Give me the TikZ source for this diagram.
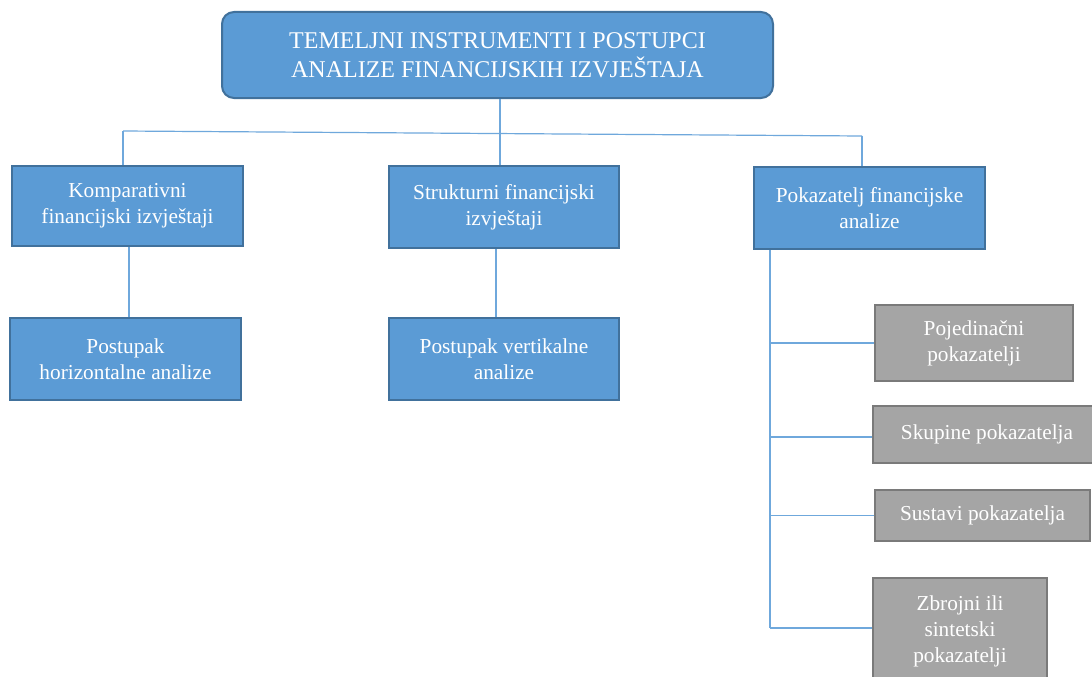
\documentclass[tikz,border=0pt]{standalone}
\usepackage{fontspec}
\setmainfont{Liberation Serif}
\definecolor{boxblue}{HTML}{5B9BD5}
\definecolor{blueedge}{HTML}{41719C}
\definecolor{boxgrey}{HTML}{A5A5A5}
\definecolor{greyedge}{HTML}{7A7A7A}
\definecolor{linkblue}{HTML}{6FA8DC}
\tikzset{
  bluebox/.style={draw=blueedge, fill=boxblue, line width=2pt, text=white, align=center, inner sep=0pt, font=\fontsize{21.3}{26}\selectfont},
  greybox/.style={draw=greyedge, fill=boxgrey, line width=2pt, text=white, align=center, inner sep=0pt, font=\fontsize{21.3}{26}\selectfont},
  link/.style={draw=linkblue, line width=1.2pt}
}
\begin{document}
\begin{tikzpicture}[x=1pt,y=-1pt]
\clip (0,0) rectangle (1092,677);
\fill[white] (0,0) rectangle (1092,677);
\node[bluebox, rounded corners=12pt, minimum width=551pt, minimum height=86pt, font=\fontsize{24}{29}\selectfont] (top) at (497.5,55) {TEMELJNI INSTRUMENTI I POSTUPCI\\ANALIZE FINANCIJSKIH IZVJEŠTAJA};
\node[bluebox, minimum width=231pt, minimum height=80pt] (komp) at (127.5,206) {Komparativni\\financijski izvještaji};
\node[bluebox, minimum width=230pt, minimum height=82pt] (strukt) at (504,207) {Strukturni financijski\\izvještaji};
\node[bluebox, minimum width=231pt, minimum height=82pt] (pok) at (869.5,208) {Pokazatelj financijske\\analize};
\node[bluebox, minimum width=231pt, minimum height=82pt] (horiz) at (125.5,359) {Postupak\\horizontalne analize};
\node[bluebox, minimum width=230pt, minimum height=82pt] (vert) at (504,359) {Postupak vertikalne\\analize};
\node[greybox, minimum width=198pt, minimum height=76pt] (poj) at (974,343) {Pojedinačni\\pokazatelji};
\node[greybox, minimum width=228pt, minimum height=57pt] (skup) at (987,434.5) {Skupine pokazatelja};
\node[greybox, minimum width=215pt, minimum height=51pt] (sust) at (982.5,515.5) {Sustavi pokazatelja};
\node[greybox, minimum width=174pt, minimum height=106pt] (zbr) at (960,631) {Zbrojni ili\\sintetski\\pokazatelji};
\coordinate (j0) at (500,133.5);
\coordinate (jl) at (123,131);
\coordinate (jr) at (862,136);
\coordinate (cl) at (129,0);
\coordinate (cm) at (496,0);
\coordinate (t0) at (770,0);
\coordinate (bs) at ([yshift=-2.5pt]skup.west);
\coordinate (bz) at ([yshift=3pt]zbr.west);
\draw[link] (top.south -| j0) -- (j0);
\draw[link] (jl) -- (jr);
\draw[link] (jl) -- (komp.north -| jl);
\draw[link] (j0) -- (strukt.north -| j0);
\draw[link] (jr) -- (pok.north -| jr);
\draw[link] (komp.south -| cl) -- (horiz.north -| cl);
\draw[link] (strukt.south -| cm) -- (vert.north -| cm);
\draw[link] (pok.south -| t0) -- (t0 |- bz);
\draw[link] (t0 |- poj.west) -- (poj.west);
\draw[link] (t0 |- bs) -- (bs);
\draw[link] (t0 |- sust.west) -- (sust.west);
\draw[link] (t0 |- bz) -- (bz);
\end{tikzpicture}
\end{document}
